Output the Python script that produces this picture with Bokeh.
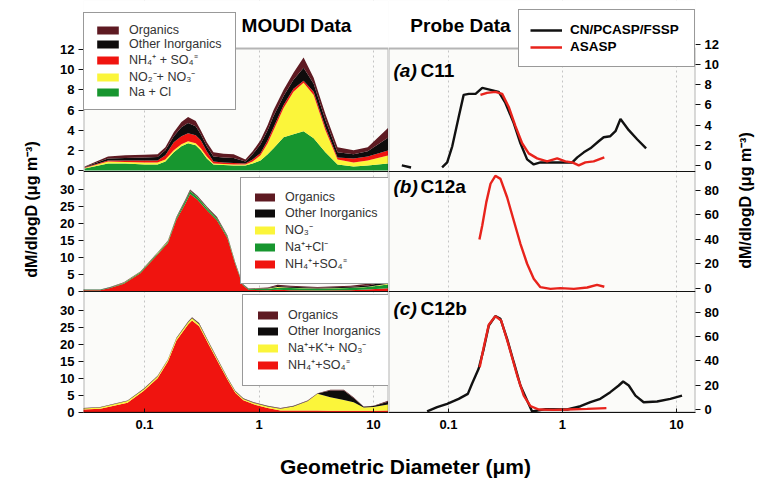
import numpy as np
from bokeh.plotting import figure
from bokeh.models import (Range1d, FixedTicker, Legend, LegendItem, Span, Label, ColumnDataSource,
                          BoxAnnotation)
from bokeh.layouts import row, column
from bokeh.embed import file_html
from bokeh.resources import INLINE

nan = float("nan")

# ---------------- data (dM/dlogD, ug m-3) ----------------
X_TICKS = [0.1, 1, 10]
X_TICK_LABELS = ["0.1", "1", "10"]

# MOUDI, case C11 (stacked components)
c11_d = [0.03, 0.048, 0.068, 0.10, 0.13, 0.152, 0.18, 0.21, 0.24, 0.28, 0.31, 0.35, 0.40, 0.49, 0.60,
         0.76, 0.88, 1.03, 1.19, 1.34, 1.64, 2.0, 2.45, 3.0, 3.8, 4.85, 6.7, 8.9, 13.6]
c11_nacl = [0.2, 0.7, 0.7, 0.6, 0.6, 0.9, 1.8, 2.4, 2.7, 2.5, 2.0, 1.2, 0.6, 0.55, 0.5,
            0.5, 0.7, 1.0, 1.6, 2.2, 3.3, 3.6, 3.9, 3.2, 1.8, 0.6, 0.4, 0.5, 0.7]
c11_no3 = [0.05, 0.2, 0.15, 0.2, 0.2, 0.2, 0.2, 0.2, 0.2, 0.2, 0.2, 0.2, 0.1, 0.1, 0.1,
           0.1, 0.2, 0.5, 1.1, 1.8, 2.9, 4.2, 4.8, 4.3, 2.2, 0.5, 0.4, 0.5, 0.8]
c11_nh4so4 = [0.05, 0.1, 0.15, 0.2, 0.2, 0.4, 0.8, 0.8, 0.8, 0.8, 0.8, 0.5, 0.2, 0.15, 0.15,
              0.1, 0.2, 0.2, 0.3, 0.3, 0.3, 0.3, 0.2, 0.3, 0.3, 0.2, 0.4, 0.4, 0.5]
c11_other = [0.05, 0.2, 0.25, 0.3, 0.35, 0.5, 0.6, 0.9, 1.0, 0.9, 0.6, 0.5, 0.5, 0.5, 0.5,
             0.2, 0.5, 0.9, 1.0, 1.1, 0.9, 0.9, 1.3, 0.8, 0.7, 0.5, 0.4, 0.5, 1.3]
c11_org = [0.05, 0.2, 0.25, 0.25, 0.25, 0.3, 0.4, 0.5, 0.6, 0.5, 0.4, 0.4, 0.4, 0.35, 0.35,
           0.2, 0.3, 0.4, 0.5, 0.6, 0.6, 0.7, 1.0, 0.6, 0.6, 0.5, 0.4, 0.4, 1.0]

# MOUDI, case C12a
c12a_d = [0.029, 0.041, 0.05, 0.066, 0.092, 0.13, 0.16, 0.19, 0.23, 0.25, 0.29, 0.355, 0.43, 0.53,
          0.62, 0.72, 0.81, 1.19, 1.45, 1.88, 3.24, 6.3, 8.9, 13.6]
c12a_nh4so4 = [0.4, 0.4, 1.0, 2.3, 5.4, 10.9, 14.3, 21.1, 26.2, 28.7, 27.0, 23.7, 20.9, 15.7,
               8.0, 1.9, 0.5, 0.4, 0.5, 0.4, 0.3, 0.4, 0.6, 1.0]
c12a_nacl = [0.1, 0.1, 0.15, 0.2, 0.25, 0.3, 0.35, 0.5, 0.7, 0.8, 0.7, 0.6, 0.5, 0.4,
             0.3, 0.2, 0.2, 0.4, 0.6, 0.6, 0.5, 0.6, 0.7, 1.1]
c12a_no3 = [0.05, 0.05, 0.05, 0.05, 0.05, 0.1, 0.1, 0.1, 0.1, 0.1, 0.1, 0.1, 0.1, 0.1,
            0.1, 0.05, 0.05, 0.1, 0.2, 0.1, 0.1, 0.1, 0.1, 0.2]
c12a_other = [0.02, 0.02, 0.05, 0.05, 0.1, 0.1, 0.1, 0.15, 0.2, 0.2, 0.2, 0.2, 0.2, 0.15,
              0.1, 0.05, 0.05, 0.15, 0.3, 0.3, 0.2, 0.3, 0.4, 0.7]
c12a_org = [0.03, 0.03, 0.05, 0.1, 0.1, 0.1, 0.15, 0.15, 0.2, 0.2, 0.2, 0.2, 0.2, 0.15,
            0.1, 0.1, 0.1, 0.15, 0.4, 0.3, 0.2, 0.3, 0.5, 0.7]

# MOUDI, case C12b
c12b_d = [0.029, 0.041, 0.071, 0.098, 0.13, 0.16, 0.19, 0.24, 0.26, 0.30, 0.355, 0.43, 0.53, 0.62,
          0.73, 0.9, 1.19, 1.54, 2.0, 2.65, 3.24, 4.2, 5.5, 6.7, 8.2, 10.0, 13.6]
c12b_nh4so4 = [0.9, 1.1, 2.9, 6.3, 10.1, 15.0, 21.2, 25.9, 27.1, 25.4, 20.7, 15.4, 9.7, 5.8,
               3.6, 2.4, 1.3, 0.6, 0.6, 0.6, 0.6, 0.5, 0.5, 0.5, 0.5, 0.5, 0.6]
c12b_naknO3 = [0.3, 0.4, 0.45, 0.5, 0.5, 0.5, 0.6, 0.6, 0.6, 0.6, 0.5, 0.45, 0.4, 0.4,
               0.4, 0.4, 0.5, 0.5, 1.2, 2.7, 4.9, 4.0, 3.2, 2.5, 1.0, 1.1, 1.8]
c12b_other = [0.05, 0.05, 0.1, 0.1, 0.1, 0.1, 0.1, 0.15, 0.15, 0.15, 0.15, 0.1, 0.1, 0.1,
              0.1, 0.1, 0.1, 0.1, 0.1, 0.1, 0.1, 2.0, 2.8, 1.3, 0.2, 0.3, 0.8]
c12b_org = [0.05, 0.05, 0.05, 0.1, 0.1, 0.1, 0.1, 0.15, 0.15, 0.15, 0.15, 0.15, 0.1, 0.1,
            0.1, 0.1, 0.1, 0.1, 0.1, 0.1, 0.1, 0.2, 0.2, 0.2, 0.1, 0.1, 0.3]

# Probe data
probe_c11_cn_d = [0.039, 0.047, 0.065, 0.088, 0.0975, 0.108, 0.123, 0.136, 0.151, 0.173, 0.198,
                  0.234, 0.276, 0.316, 0.374, 0.428, 0.49, 0.56, 0.641, 0.839, 1.03, 1.22, 1.35,
                  1.54, 1.76, 2.08, 2.3, 2.63, 2.92, 3.23, 3.82, 4.52, 5.42]
probe_c11_cn = [0.0, -0.2, nan, -0.2, 0.3, 1.9, 4.8, 7.0, 7.1, 7.1, 7.7,
                7.5, 7.3, 6.2, 4.2, 2.2, 0.6, 0.1, 0.3, 0.3, 0.3, 0.3, 0.8,
                1.3, 1.7, 2.4, 2.8, 2.9, 3.4, 4.6, 3.5, 2.6, 1.7]
probe_c11_as_d = [0.191, 0.218, 0.258, 0.296, 0.338, 0.387, 0.443, 0.506, 0.60, 0.734, 0.899,
                  1.06, 1.22, 1.39, 1.59, 1.88, 2.33]
probe_c11_as = [7.0, 7.2, 7.3, 7.1, 5.8, 3.9, 2.2, 1.2, 0.7, 0.4, 0.7, 0.4, 0.3, 0.0, 0.3, 0.4, 0.8]

probe_c12a_as_d = [0.187, 0.198, 0.215, 0.234, 0.258, 0.286, 0.327, 0.374, 0.428, 0.49, 0.56,
                   0.641, 0.785, 0.96, 1.26, 1.65, 2.01, 2.33]
probe_c12a_as = [40, 51.4, 70.5, 85.5, 92.0, 89.5, 74.5, 55.5, 36.5, 20.2, 7.9,
                 1.1, -0.3, 0.3, -0.3, 0.8, 3.0, 1.4]

probe_c12b_cn_d = [0.065, 0.0796, 0.0975, 0.123, 0.148, 0.161, 0.184, 0.204, 0.226, 0.258, 0.286,
                   0.327, 0.374, 0.428, 0.49, 0.542, 0.71, 1.10, 1.44, 1.76, 2.15, 2.63, 3.12,
                   3.41, 3.82, 4.37, 5.16, 6.77, 8.85, 11.2]
probe_c12b_cn = [-1.6, 1.9, 4.7, 8.8, 12.9, 21.2, 33.6, 50, 69.3, 77, 74.8,
                 58.3, 39, 19.8, 7.4, -1.6, 0.3, 0.0, 2.7, 6.0, 8.8, 14.3, 19.8,
                 23.1, 19.8, 11.5, 6.0, 6.6, 8.8, 11.5]
probe_c12b_as_d = [0.188, 0.204, 0.226, 0.258, 0.29, 0.338, 0.401, 0.458, 0.524, 0.62, 0.839,
                   1.10, 1.65, 2.43]
probe_c12b_as = [34.9, 51.4, 69.9, 77, 73.4, 52.8, 28, 11.5, 2.7, 0, -0.3, 0, 0.5, 1.1]

# ---------------- styling / layout ----------------
FONT = "Liberation Sans"
C_ORG, C_OTH, C_RED, C_YEL, C_GRN = "#5e1a22", "#0e0c0c", "#f0140f", "#fbf53a", "#17962f"
C_LINE_K, C_LINE_R = "#111111", "#e8231c"
FIG_H = 440
PANEL_H = 364          # pixel height of the three stacked panels
FRAME_H = 412          # frame height incl. the title strip above the panels
BANDS = {"top": (241, 364), "mid": (121, 241), "bot": (0, 121)}
LEFT_VR = {"top": (-0.1, 12.1), "mid": (0.0, 35.3), "bot": (0.0, 35.6)}
RIGHT_VR = {"top": (-0.6, 11.6), "mid": (-2.45, 95.5), "bot": (-2.47, 97.3)}
LEFT_TICKS = {"top": range(0, 13, 2), "mid": range(0, 31, 5), "bot": range(0, 31, 5)}
RIGHT_TICKS = {"top": range(0, 13, 2), "mid": range(0, 81, 20), "bot": range(0, 81, 20)}
Y_TITLE = "dM/dlogD (μg m⁻³)"
X_TITLE = "Geometric Diameter (μm)"


def panel_range(name, vr):
    b0, b1 = BANDS[name]
    v0, v1 = vr[name]
    s = (v1 - v0) / (b1 - b0)
    return Range1d(v0 - b0 * s, v1 + (FRAME_H - b1) * s)


def axis_ticks(vr, ticks):
    pos, labels = [], {}
    for name, vals in ticks.items():
        b0, b1 = BANDS[name]
        v0, v1 = vr[name]
        for v in vals:
            t = round(b0 + (v - v0) * (b1 - b0) / (v1 - v0), 3)
            pos.append(t)
            labels[t] = str(v)
    return pos, labels


def base_fig(width, xr, side, bl, br, vr, ticks):
    p = figure(width=width, height=FIG_H, x_axis_type="log", x_range=Range1d(*xr),
               y_range=Range1d(0, FRAME_H), y_axis_location=side,
               output_backend="svg", toolbar_location=None,
               min_border_left=bl, min_border_right=br, min_border_top=0,
               min_border_bottom=FIG_H - FRAME_H)
    p.background_fill_color = "#fbfbf9"
    p.border_fill_color = "white"
    p.outline_line_color = None
    p.ygrid.visible = False
    p.xgrid.ticker = FixedTicker(ticks=X_TICKS)
    p.xgrid.grid_line_color = "#c4c4c4"
    p.xgrid.grid_line_dash = "2 3"
    p.extra_y_ranges = {k: panel_range(k, vr) for k in BANDS}
    xa = p.xaxis[0]
    xa.ticker = FixedTicker(ticks=X_TICKS)
    xa.major_label_overrides = {t: l for t, l in zip(X_TICKS, X_TICK_LABELS)}
    xa.axis_line_color = "#111111"
    ya = p.yaxis[0]
    pos, labels = axis_ticks(vr, ticks)
    ya.ticker = FixedTicker(ticks=pos)
    ya.major_label_overrides = labels
    ya.axis_line_color = None
    for ax, tin, tout, so in ((xa, 4, 0, 7), (ya, 0, 5, 4)):
        ax.major_tick_in = tin
        ax.major_tick_out = tout
        ax.major_label_standoff = so
        ax.minor_tick_line_color = None
        ax.major_tick_line_color = "#111111"
        ax.major_label_text_font = FONT
        ax.major_label_text_font_style = "bold"
        ax.major_label_text_font_size = "13px"
        ax.major_label_text_color = "black"
    # white strip above the panels (hides grid lines behind the titles)
    p.add_layout(BoxAnnotation(bottom=PANEL_H, fill_color="white", fill_alpha=1.0, line_alpha=0))
    # border of the stacked panels
    p.add_layout(BoxAnnotation(bottom=0, top=PANEL_H, fill_alpha=0, line_color="#111111",
                               line_width=2))
    for b in (BANDS["bot"][1], BANDS["mid"][1]):
        p.add_layout(Span(location=b, dimension="width", line_color="#111111", line_width=1.2))
    return p


def text_fig(width, height):
    p = figure(width=width, height=height, x_range=Range1d(0, 1), y_range=Range1d(0, 1),
               x_axis_location=None, y_axis_location=None, output_backend="svg",
               toolbar_location=None, min_border=0)
    p.grid.visible = False
    p.outline_line_color = None
    p.border_fill_color = "white"
    p.background_fill_color = "white"
    return p


def label(p, x, y, text, size, style="bold", align="left", angle=0.0, color="black"):
    p.add_layout(Label(x=x, y=y, x_units="screen", y_units="screen", text=text,
                       text_font=FONT, text_font_size=size, text_font_style=style,
                       text_align=align, text_baseline="middle", angle=angle, text_color=color))


def legend(p, items, loc, padding, spacing, lh, gw, gh, lw, size, style="normal", color="#333333"):
    lg = Legend(items=[LegendItem(label=l, renderers=[r]) for l, r in items], location=loc,
                orientation="vertical", padding=padding, spacing=spacing, margin=0,
                label_height=lh, label_width=lw, glyph_width=gw, glyph_height=gh,
                label_standoff=8, label_text_font=FONT, label_text_font_size=size,
                label_text_font_style=style, label_text_color=color,
                border_line_color="#333333", border_line_width=1,
                background_fill_color="white", background_fill_alpha=1.0)
    p.add_layout(lg, "center")


# ---------------- left: MOUDI ----------------
pl = base_fig(343, (0.0293, 13.52), "left", 38, 0, LEFT_VR, LEFT_TICKS)

s1 = ColumnDataSource(dict(d=c11_d, nacl=c11_nacl, no3=c11_no3, nh4=c11_nh4so4,
                           oth=c11_other, org=c11_org))
r1 = pl.varea_stack(["nacl", "no3", "nh4", "oth", "org"], x="d", source=s1,
                    color=[C_GRN, C_YEL, C_RED, C_OTH, C_ORG], y_range_name="top")
legend(pl, [("Organics", r1[4]), ("Other Inorganics", r1[3]), ("NH₄⁺ + SO₄⁼", r1[2]),
            ("NO₂⁻+ NO₃⁻", r1[1]), ("Na + Cl", r1[0])],
       (0, 302), 10, 0, 14, 27, 10, 96, "12.5px")

s2 = ColumnDataSource(dict(d=c12a_d, nh4=c12a_nh4so4, nacl=c12a_nacl, no3=c12a_no3,
                           oth=c12a_other, org=c12a_org))
r2 = pl.varea_stack(["nh4", "nacl", "no3", "oth", "org"], x="d", source=s2,
                    color=[C_RED, C_GRN, C_YEL, C_OTH, C_ORG], y_range_name="mid")
legend(pl, [("Organics", r2[4]), ("Other Inorganics", r2[3]), ("NO₃⁻", r2[2]),
            ("Na⁺+Cl⁻", r2[1]), ("NH₄⁺+SO₄⁼", r2[0])],
       (157, 128), 11, 0, 16, 25, 10, 88, "12.5px")

s3 = ColumnDataSource(dict(d=c12b_d, nh4=c12b_nh4so4, nak=c12b_naknO3,
                           oth=c12b_other, org=c12b_org))
r3 = pl.varea_stack(["nh4", "nak", "oth", "org"], x="d", source=s3,
                    color=[C_RED, C_YEL, C_OTH, C_ORG], y_range_name="bot")
legend(pl, [("Organics", r3[3]), ("Other Inorganics", r3[2]), ("Na⁺+K⁺+ NO₃⁻", r3[1]),
            ("NH₄⁺+SO₄⁼", r3[0])],
       (159, 26), 12, 0, 16, 25, 10, 88, "12.5px")

label(pl, 213, 387, "MOUDI Data", "19px", align="center")

# ---------------- right: probes ----------------
pr = base_fig(342, (0.0298, 14.7), "right", 0, 35, RIGHT_VR, RIGHT_TICKS)
LW = 2.4
k1 = pr.line(np.array(probe_c11_cn_d), np.array(probe_c11_cn), y_range_name="top",
             line_color=C_LINE_K, line_width=LW)
a1 = pr.line(probe_c11_as_d, probe_c11_as, y_range_name="top", line_color=C_LINE_R, line_width=LW)
pr.line(probe_c12a_as_d, probe_c12a_as, y_range_name="mid", line_color=C_LINE_R, line_width=LW)
pr.line(probe_c12b_cn_d, probe_c12b_cn, y_range_name="bot", line_color=C_LINE_K, line_width=LW)
pr.line(probe_c12b_as_d, probe_c12b_as, y_range_name="bot", line_color=C_LINE_R, line_width=LW)
legend(pr, [("CN/PCASP/FSSP", k1), ("ASASP", a1)], (130, 345), 11, 0, 17, 32, 10, 113,
       "13.5px", style="bold", color="black")

label(pr, 72, 387, "Probe Data", "19px", align="center")
for txt_a, txt_b, yy in (("(a)", "C11", 342), ("(b)", "C12a", 226), ("(c)", "C12b", 104)):
    label(pr, 5, yy, txt_a, "19px", style="bold italic")
    label(pr, 32, yy, txt_b, "19px")

# ---------------- axis titles ----------------
pyl = text_fig(45, FIG_H)
label(pyl, 31, FIG_H - 237, Y_TITLE, "16px", align="center", angle=np.pi / 2)
pyr = text_fig(35, FIG_H)
label(pyr, 15, FIG_H - 228, Y_TITLE, "16px", align="center", angle=np.pi / 2)
pb = text_fig(765, 38)
label(pb, 405, 12, X_TITLE, "21px", align="center")

layout = column(row(pyl, pl, pr, pyr), pb)
open("out.html", "w").write(file_html(layout, INLINE))
